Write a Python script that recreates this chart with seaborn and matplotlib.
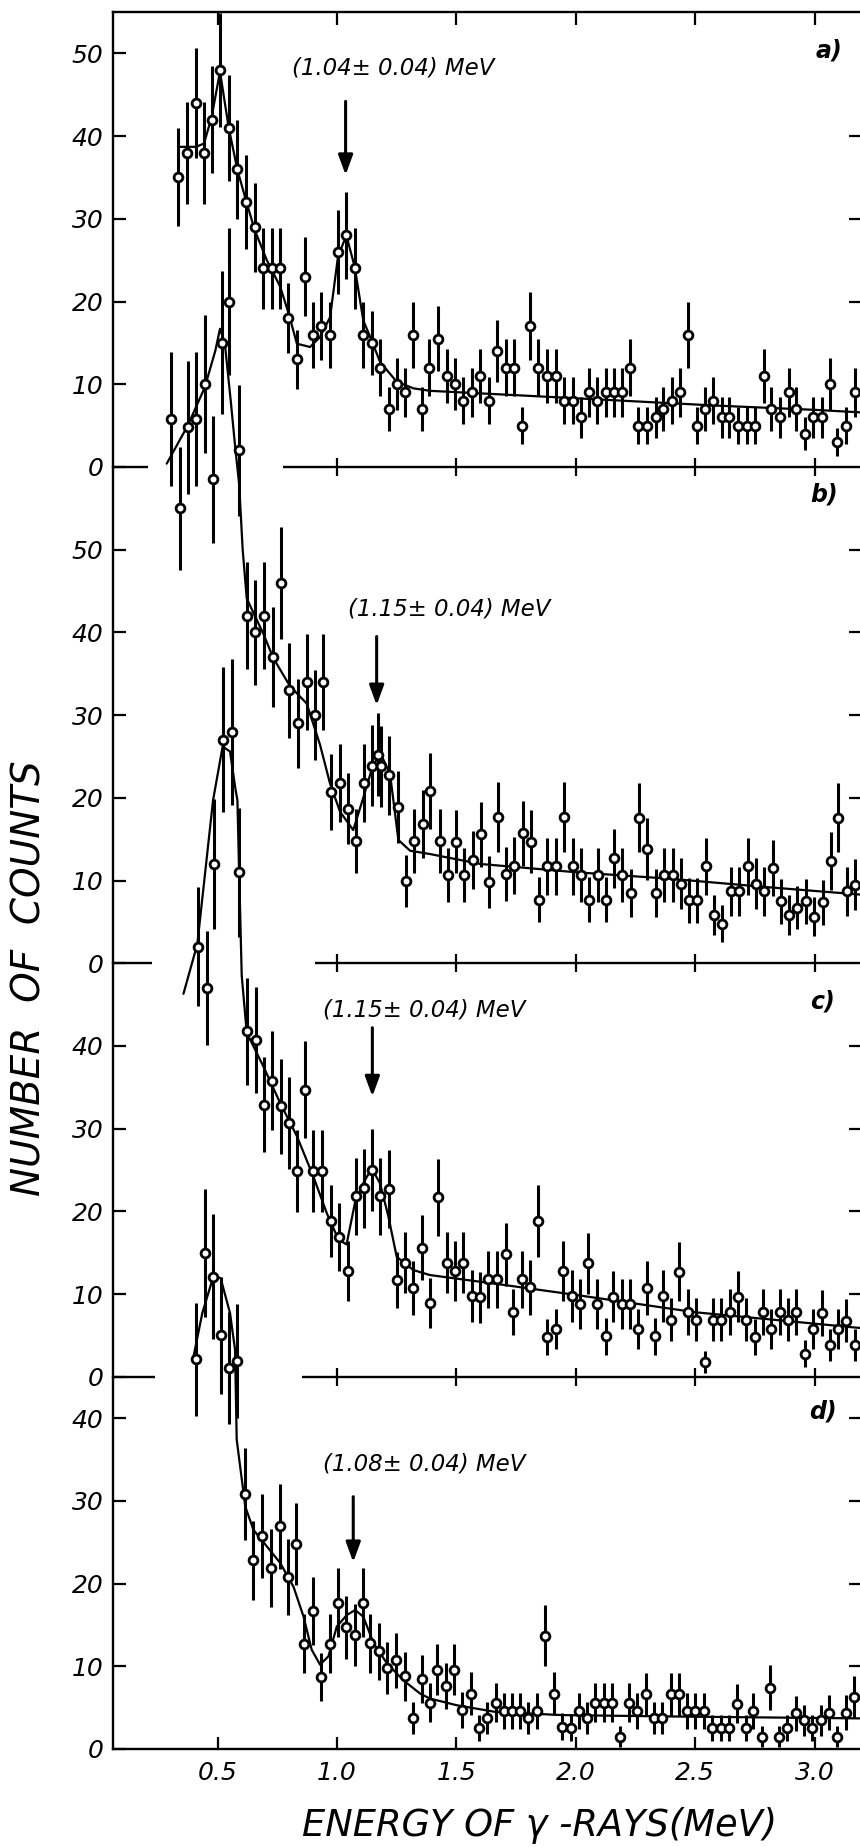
import numpy as np
import matplotlib
matplotlib.use("Agg")
import matplotlib.pyplot as plt
import seaborn as sns

# ---------------- data ----------------
# panel a
E_a = [0.336,0.373,0.408,0.443,0.475,0.510,0.546,0.583,0.619,0.656,0.692,0.727,0.762,0.795,0.833,0.868,0.901,0.935,0.971,1.004,1.039,1.074,1.110,1.145,1.178,1.218,1.253,1.285,1.320,1.355,1.387,
       1.424,1.459,1.494,1.529,1.564,1.599,1.636,1.672,1.706,1.741,1.776,1.808,1.843,1.878,1.915,1.952,1.987,2.022,2.057,2.090,2.125,2.160,2.195,2.227,2.262,2.299,2.334,2.366,2.401,2.436,2.468,2.506,2.541,2.576,2.611,2.642,2.680,2.715,2.750,2.787,2.819,2.854,2.892,2.924,2.959,2.994,3.029,3.064,3.094,3.131,3.169]
N_a = [35,38,44,38,42,48,41,36,32,29,24,24,24,18,13,23,16,17,16,26,28,24,16,15,12,7,10,9,16,7,12,
       15.5,11,10,8,9,11,8,14,12,12,5,17,12,11,11,8,8,6,9,8,9,9,9,12,5,5,6,7,8,9,16,5,7,8,6,6,5,5,5,11,7,6,9,7,4,6,6,10,3,5,9]
fitE_a = [0.336,0.41,0.443,0.475,0.51,0.546,0.583,0.622,0.656,0.706,0.762,0.797,0.832,0.887,0.929,0.971,1.004,1.039,1.074,1.11,1.145,1.18,1.25,1.32,1.39,1.8,2.2,2.6,3.0,3.19]
fitN_a = [38.7,38.7,39.1,42.3,47.8,41.1,35.9,31.9,28.6,25.0,21.8,18.6,14.9,14.5,15.7,18.1,25.4,28.0,24.2,17.7,15.3,12.7,10.3,9.5,9.2,8.6,8.0,7.4,6.9,6.6]

# panel b
E_b = [0.305,0.343,0.375,0.410,0.446,0.482,0.517,0.549,0.588,0.622,0.658,0.696,0.731,0.766,0.800,0.838,0.873,0.908,0.940,0.975,1.013,1.047,1.080,1.114,1.148,1.172,1.183,1.219,1.254,1.289,1.324,1.359,1.389,
       1.431,1.466,1.498,1.533,1.568,1.603,1.638,1.673,1.707,1.742,1.777,1.811,1.847,1.880,1.917,1.951,1.987,2.021,2.056,2.091,2.125,2.159,2.194,2.229,2.264,2.299,2.334,2.369,2.405,2.439,2.473,2.508,2.545,2.579,2.614,2.649,2.684,2.719,2.754,2.789,2.824,2.859,2.893,2.928,2.963,2.998,3.033,3.068,3.099,3.136,3.168]
N_b = [65.8,55,64.8,65.8,70,58.5,75,80,62,42,40,42,37,46,33,29,34,30,34,20.7,21.8,18.7,14.8,21.8,23.9,25.2,23.8,22.7,18.9,9.9,14.8,16.8,20.8,
       14.8,10.7,14.7,10.7,12.5,15.6,9.8,17.7,10.8,11.8,15.7,14.7,7.7,11.7,11.7,17.7,11.7,10.7,7.7,10.7,7.7,12.7,10.7,8.5,17.6,13.8,8.5,10.7,10.7,9.6,7.6,7.6,11.7,5.8,4.8,8.7,8.7,11.7,9.6,8.7,11.5,7.5,5.8,6.7,7.5,5.6,7.4,12.4,17.6,8.7,9.5]
fitE_b = [0.287,0.375,0.446,0.49,0.51,0.53,0.555,0.575,0.59,0.605,0.622,0.692,0.733,0.803,0.873,0.929,0.971,1.013,1.068,1.11,1.145,1.18,1.222,1.257,1.306,1.389,1.6,2.0,2.4,2.8,3.19]
fitN_b = [60.4,65.0,69.6,74.0,76.7,75.0,68.0,62.0,58.0,50.0,44.1,39.8,36.9,33.5,31.4,26.4,21.7,18.3,16.1,20.0,23.4,25.5,22.9,14.9,13.6,13.2,12.0,11.0,10.2,9.2,8.3]

# panel c
E_c = [0.420,0.455,0.487,0.521,0.559,0.591,0.625,0.660,0.693,0.728,0.764,0.800,0.833,0.868,0.901,0.936,0.974,1.008,1.045,1.080,1.113,1.148,1.181,1.216,1.250,1.285,1.320,1.356,1.389,
       1.424,1.459,1.494,1.529,1.564,1.599,1.634,1.669,1.706,1.738,1.773,1.808,1.843,1.878,1.915,1.947,1.985,2.017,2.052,2.087,2.125,2.157,2.192,2.227,2.262,2.297,2.332,2.367,2.399,2.434,2.469,2.503,2.542,2.574,2.609,2.647,2.679,2.714,2.749,2.784,2.819,2.854,2.889,2.924,2.959,2.994,3.029,3.064,3.098,3.133,3.168]
N_c = [52,47,62,77,78,61,41.8,40.7,32.9,35.8,32.7,30.7,24.9,34.7,24.9,24.9,18.8,16.9,12.8,21.8,22.8,25,21.8,22.7,11.7,13.8,10.7,15.6,8.9,
       21.7,13.8,12.8,13.8,9.8,9.6,11.8,11.8,14.8,7.8,11.8,10.8,18.8,4.8,5.8,12.8,9.8,8.8,13.7,8.8,4.9,9.7,8.8,8.8,5.8,10.7,4.9,9.8,6.9,12.7,7.8,6.9,1.8,6.9,6.9,7.8,9.7,6.9,4.8,7.8,5.8,7.8,6.9,7.8,2.8,5.8,7.7,3.8,5.8,6.8,3.8]
fitE_c = [0.357,0.415,0.481,0.521,0.552,0.575,0.583,0.59,0.601,0.622,0.692,0.762,0.832,0.901,0.957,1.006,1.04,1.075,1.11,1.145,1.18,1.215,1.25,1.32,1.389,1.7,2.0,2.5,3.19]
fitN_c = [46.3,52.3,69.7,76.2,75.6,71.0,69.7,61.2,48.5,41.6,37.5,33.1,29.1,24.2,19.8,16.6,16.0,21.0,23.4,25.2,23.4,19.4,14.5,12.9,12.3,11.1,9.9,7.8,5.9]

# panel d
E_d = [0.408,0.446,0.480,0.513,0.547,0.583,0.616,0.650,0.688,0.724,0.760,0.793,0.827,0.862,0.898,0.934,0.969,1.003,1.038,1.074,1.109,1.140,1.175,1.210,1.249,1.284,1.319,1.354,1.388,
       1.420,1.455,1.490,1.525,1.563,1.595,1.629,1.664,1.699,1.733,1.765,1.800,1.838,1.873,1.909,1.943,1.978,2.013,2.048,2.082,2.117,2.152,2.187,2.222,2.257,2.292,2.327,2.362,2.397,2.432,2.466,2.501,2.536,2.571,2.606,2.641,2.676,2.711,2.743,2.778,2.813,2.851,2.886,2.921,2.955,2.990,3.025,3.060,3.095,3.130,3.165]
N_d = [47.1,60,57.1,50,46.1,46.9,30.8,22.8,25.8,21.9,26.9,20.8,24.8,12.7,16.7,8.7,12.7,17.7,14.7,13.8,17.7,12.8,11.8,9.8,10.7,8.8,3.7,8.5,5.6,
       9.6,7.6,9.6,4.7,6.7,2.5,3.7,5.6,4.6,4.6,4.6,3.7,4.6,13.7,6.7,2.7,2.5,4.6,3.7,5.6,5.6,5.6,1.5,5.6,4.6,6.6,3.7,3.7,6.6,6.6,4.6,4.6,4.6,2.5,2.5,2.5,5.5,2.5,4.6,1.5,7.4,1.5,2.5,4.3,3.5,2.5,3.5,4.4,1.5,4.4,6.3]
fitE_d = [0.396,0.436,0.484,0.513,0.552,0.573,0.580,0.616,0.650,0.706,0.762,0.818,0.860,0.894,0.929,0.964,0.999,1.041,1.076,1.110,1.153,1.208,1.278,1.348,1.389,1.5,1.66,1.94,2.5,3.19]
fitN_d = [47.0,52.7,57.3,56.9,52.7,48.3,37.4,29.3,26.5,24.5,22.5,19.6,16.0,12.0,10.2,11.2,14.8,16.2,16.8,16.0,12.8,10.4,8.3,6.7,6.1,5.3,4.5,4.1,3.9,3.7]

energy_labels = ["(1.04\u00b1 0.04) MeV", "(1.15\u00b1 0.04) MeV", "(1.15\u00b1 0.04) MeV", "(1.08\u00b1 0.04) MeV"]
panel_letters = ["a)", "b)", "c)", "d)"]
line_energies = [1.036, 1.166, 1.148, 1.068]
xtick_vals = [0.5, 1.0, 1.5, 2.0, 2.5, 3.0]
xtick_text = ["0.5", "1.0", "1.5", "2.0", "2.5", "3.0"]

# ---------------- style ----------------
sns.set_style("ticks")
plt.rcParams['font.family'] = ['DejaVu Sans']
plt.rcParams['font.style'] = 'italic'
plt.rcParams['axes.linewidth'] = 1.7
for key in ['text.color', 'axes.labelcolor', 'xtick.color', 'ytick.color', 'axes.edgecolor']:
    plt.rcParams[key] = 'black'

W, H = 860, 1847
fig = plt.figure(figsize=(W / 100, H / 100), dpi=100)
fig.patch.set_facecolor('white')
heights = [55, 60, 50, 45]
gs = fig.add_gridspec(4, 1, height_ratios=heights, hspace=0,
                      left=113 / W, right=1.0, top=1 - 12 / H, bottom=1 - 1749 / H)

panels = [
    dict(E=E_a, N=N_a, fE=fitE_a, fN=fitN_a, yt=[0, 10, 20, 30, 40, 50], rt=[20, 30, 40],
         gaps=[(0.062, 0.21), (0.775, 3.19)], lab=(0.81, 48.2), arr=(44.2, 35.3), let=(3.06, 50.4)),
    dict(E=E_b, N=N_b, fE=fitE_b, fN=fitN_b, yt=[0, 10, 20, 30, 40, 50], rt=[20, 30, 40, 50],
         gaps=[(0.062, 0.224), (0.908, 3.19)], lab=(1.046, 42.8), arr=(39.5, 31.2), let=(3.04, 56.7)),
    dict(E=E_c, N=N_c, fE=fitE_c, fN=fitN_c, yt=[0, 10, 20, 30, 40], rt=[10, 20, 30, 40],
         gaps=[(0.062, 0.238), (0.852, 3.19)], lab=(0.943, 44.4), arr=(42.2, 33.9), let=(3.035, 45.4)),
    dict(E=E_d, N=N_d, fE=fitE_d, fN=fitN_d, yt=[0, 10, 20, 30, 40], rt=[10, 20, 30, 40],
         gaps=None, lab=(0.943, 34.5), arr=(30.5, 22.6), let=(3.035, 40.8)),
]

for i, p in enumerate(panels):
    ax = fig.add_subplot(gs[i])
    ax.set_facecolor('none')
    ax.set_xlim(0.062, 3.19)
    ax.set_ylim(0, heights[i])

    E = np.array(p['E'])
    N = np.array(p['N'])
    err = np.sqrt(N)
    ax.vlines(E, N - err, N + err, colors='k', lw=2.2, clip_on=False, zorder=2)
    sns.lineplot(x=p['fE'], y=p['fN'], ax=ax, color='k', lw=1.6, sort=False,
                 estimator=None, clip_on=False, zorder=3)
    sns.scatterplot(x=E, y=N, ax=ax, marker='o', s=40, color='white', edgecolor='k',
                    linewidth=2.0, clip_on=False, zorder=4, legend=False)

    # y ticks
    ax.set_yticks(p['yt'])
    ax.set_yticklabels([str(v) for v in p['yt']])
    ax.tick_params(axis='y', direction='in', length=9, width=1.6, labelsize=18, pad=7)
    sec = ax.secondary_yaxis('right')
    sec.set_yticks(p['rt'])
    sec.tick_params(direction='in', length=8, width=1.6, labelright=False)
    for s in sec.spines.values():
        s.set_visible(False)

    ax.spines['right'].set_visible(False)
    ax.spines['top'].set_visible(i == 0)
    if i < 3:
        ax.spines['bottom'].set_visible(False)
        ax.set_xticks(xtick_vals[1:])
        ax.tick_params(axis='x', direction='inout', length=13, width=1.6, labelbottom=False)
        for (x0, x1) in p['gaps']:
            ax.hlines(0, x0, x1, colors='k', lw=1.7, clip_on=False, zorder=1)
    else:
        ax.set_xticks(xtick_vals)
        ax.set_xticklabels(xtick_text)
        ax.tick_params(axis='x', direction='in', length=9, width=1.6, labelsize=18, pad=9)

    if i == 0:
        secx = ax.secondary_xaxis('top')
        secx.set_xticks(xtick_vals)
        secx.tick_params(direction='in', length=9, width=1.6, labeltop=False)
        for s in secx.spines.values():
            s.set_visible(False)

    # annotations
    ax.text(p['lab'][0], p['lab'][1], energy_labels[i], fontsize=16.5,
            ha='left', va='center')
    ax.annotate('', xy=(line_energies[i], p['arr'][1]), xytext=(line_energies[i], p['arr'][0]),
                arrowprops=dict(arrowstyle='-|>,head_length=0.6,head_width=0.22', color='k',
                                lw=2.2, shrinkA=0, shrinkB=0, mutation_scale=20))
    ax.text(p['let'][0], p['let'][1], panel_letters[i], fontsize=17, fontweight='bold',
            ha='center', va='center')

fig.text(30 / W, 1 - 978 / H, "NUMBER  OF  COUNTS", rotation=90, fontsize=28,
         ha='center', va='center')
fig.text(540 / W, 1 - 1825 / H, "ENERGY OF \u03b3 -RAYS(MeV)", fontsize=26.5,
         ha='center', va='center')

fig.savefig("out.png", dpi=100)
